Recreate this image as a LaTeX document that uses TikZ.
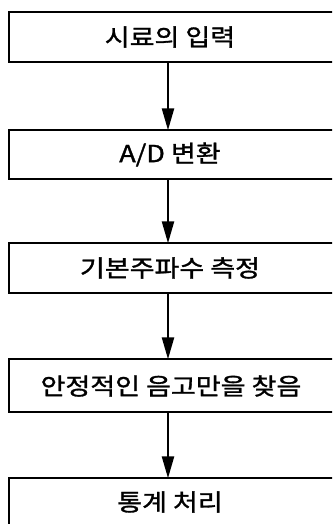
\documentclass[tikz,border=0pt]{standalone}
\usepackage{fontspec}
\usetikzlibrary{arrows.meta}
\newfontfamily\krfont[FakeStretch=1.15,FakeBold=1.3]{Noto Sans CJK KR}
\tikzset{
  stepbox/.style={draw=black, line width=1.4pt, minimum width=326pt, minimum height=50pt, inner sep=0pt},
  steptext/.style={inner sep=0pt, font=\krfont\fontsize{23.5pt}{27pt}\selectfont},
  flow/.style={draw=black, line width=2.4pt, -{Triangle[length=22pt,width=12pt]}, shorten >=-1pt}
}
\begin{document}
\begin{tikzpicture}[x=1pt,y=-1pt]
\useasboundingbox (0,0) rectangle (332,524);
\clip (0,0) rectangle (332,524);
\fill[white] (0,0) rectangle (332,524);
\coordinate (ax) at (168,0);
\node[stepbox] (b1) at (172,37) {};
\node[steptext] (t1) at (170,37) {시료의 입력};
\node[stepbox, minimum height=49pt] (b2) at (172,154.5) {};
\node[steptext] (t2) at (170,154.5) {A/D 변환};
\node[stepbox] (b3) at (172,268) {};
\node[steptext] (t3) at (170,268) {기본주파수 측정};
\node[stepbox, minimum height=53pt] (b4) at (172,385.5) {};
\node[steptext] (t4) at (171,386) {안정적인 음고만을 찾음};
\node[stepbox] (b5) at (172,503) {};
\node[steptext] (t5) at (170,502) {통계 처리};
\draw[flow] (b1.south -| ax) -- (b2.north -| ax);
\draw[flow] (b2.south -| ax) -- (b3.north -| ax);
\draw[flow] (b3.south -| ax) -- (b4.north -| ax);
\draw[flow] (b4.south -| ax) -- (b5.north -| ax);
\end{tikzpicture}
\end{document}
